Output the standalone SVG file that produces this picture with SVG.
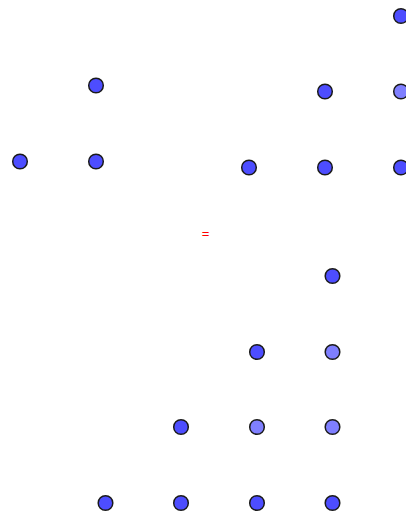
<svg xmlns="http://www.w3.org/2000/svg" width="406" height="515" viewBox="0 0 406 515">
<style>
.p{fill:#4d4dff;stroke:#1a1a1a;stroke-width:1.5}
.l{fill:#7f7fff;stroke:#1a1a1a;stroke-width:1.5}
.t{font-family:"Liberation Sans",Arial,sans-serif;font-size:13px;fill:#ff0000}
</style>
<rect width="406" height="515" fill="#ffffff"/>
<g id="connectors"></g>
<g id="n1"><circle class="p" cx="401" cy="16" r="7.3"/></g>
<g id="n2"><circle class="p" cx="96" cy="85.5" r="7.3"/></g>
<g id="n3"><circle class="p" cx="325" cy="91.5" r="7.3"/></g>
<g id="n4"><circle class="l" cx="401" cy="91.5" r="7.3"/></g>
<g id="n5"><circle class="p" cx="20" cy="161.5" r="7.3"/></g>
<g id="n6"><circle class="p" cx="96" cy="161.5" r="7.3"/></g>
<g id="n7"><circle class="p" cx="249" cy="167.5" r="7.3"/></g>
<g id="n8"><circle class="p" cx="325" cy="167.5" r="7.3"/></g>
<g id="n9"><circle class="p" cx="401" cy="167.5" r="7.3"/></g>
<g id="eq"><text class="t" x="205.5" y="237.5" text-anchor="middle">=</text></g>
<g id="n10"><circle class="p" cx="332.5" cy="276" r="7.3"/></g>
<g id="n11"><circle class="p" cx="257" cy="352" r="7.3"/></g>
<g id="n12"><circle class="l" cx="332.5" cy="352" r="7.3"/></g>
<g id="n13"><circle class="p" cx="181" cy="427" r="7.3"/></g>
<g id="n14"><circle class="l" cx="257" cy="427" r="7.3"/></g>
<g id="n15"><circle class="l" cx="332.5" cy="427" r="7.3"/></g>
<g id="n16"><circle class="p" cx="105.5" cy="503" r="7.3"/></g>
<g id="n17"><circle class="p" cx="181" cy="503" r="7.3"/></g>
<g id="n18"><circle class="p" cx="257" cy="503" r="7.3"/></g>
<g id="n19"><circle class="p" cx="332.5" cy="503" r="7.3"/></g>
</svg>
